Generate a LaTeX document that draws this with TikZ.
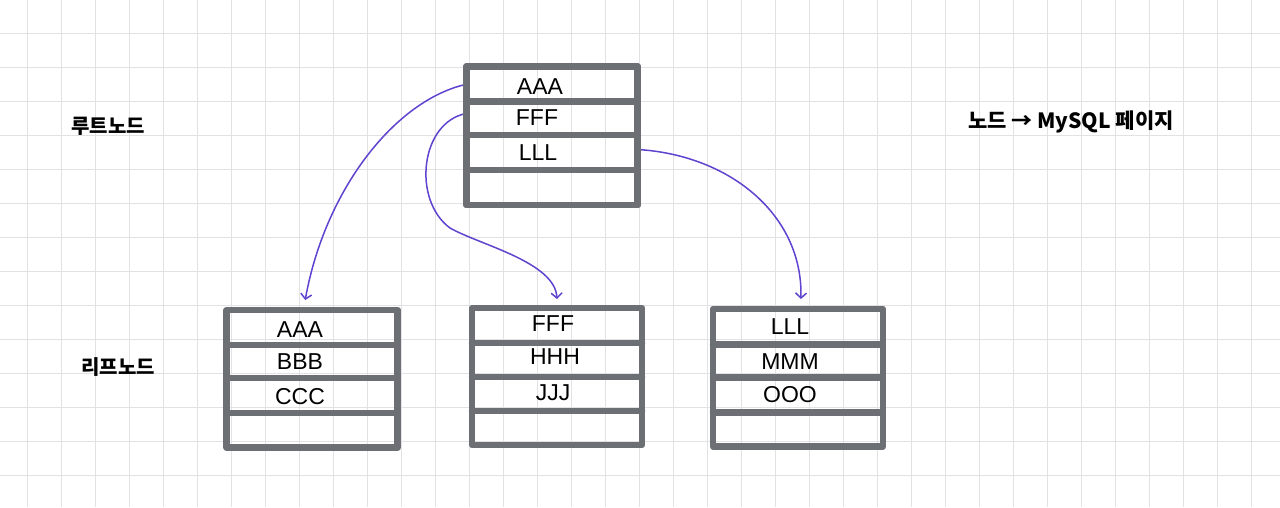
\documentclass[tikz,border=0pt]{standalone}
\usepackage{fontspec}
\setmainfont{Liberation Sans}
\newfontfamily\krfont{Noto Sans CJK KR}
\usetikzlibrary{arrows.meta}
\definecolor{gridc}{RGB}{226,226,228}
\definecolor{boxc}{RGB}{108,111,116}
\definecolor{arrc}{RGB}{96,68,208}
\tikzset{
 cell/.style={inner sep=0pt, outer sep=0pt, minimum width=#1},
 frame/.style={draw=boxc, line width=6.5pt, line cap=round, line join=round},
 lbl/.style={font=\fontsize{23}{23}\selectfont, inner sep=0pt, text=black},
 link/.style={draw=arrc, line width=1.5pt, -{Straight Barb[length=5pt,width=11pt]}},
 kr/.style={font=\krfont\bfseries\fontsize{20}{20}\selectfont, inner sep=0pt, text=black},
 gridline/.style={draw=gridc, line width=1.2pt}
}
\newcommand\pagecol[8]{%
 \node[cell=#3, minimum height={(#5-#4)*1pt}] (#1a) at (#2,{(#4+#5)/2}) {};
 \node[cell=#3, minimum height={(#6-#5)*1pt}] (#1b) at (#2,{(#5+#6)/2}) {};
 \node[cell=#3, minimum height={(#7-#6)*1pt}] (#1c) at (#2,{(#6+#7)/2}) {};
 \node[cell=#3, minimum height={(#8-#7)*1pt}] (#1d) at (#2,{(#7+#8)/2}) {};
 \draw[frame] (#1a.north west) rectangle (#1d.south east);
 \draw[frame] (#1a.south west) -- (#1a.south east);
 \draw[frame] (#1b.south west) -- (#1b.south east);
 \draw[frame] (#1c.south west) -- (#1c.south east);
}
\begin{document}
\begin{tikzpicture}[x=1pt,y=-1pt]
\useasboundingbox (0,0) rectangle (1280,507);
\fill[white] (0,0) rectangle (1280,507);
\foreach \i in {0,...,37} \draw[gridline] ({27.5+34*\i},0) -- ({27.5+34*\i},507);
\foreach \k in {0,...,13} \draw[gridline] (0,{33.5+34*\k}) -- (1280,{33.5+34*\k});

% boxes (cells)
\pagecol{r}{552.2}{171pt}{66.7}{101.7}{135}{170}{205}
\pagecol{l}{312.2}{171pt}{310}{345}{378}{413}{447.7}
\pagecol{m}{557}{170pt}{308}{343}{377}{411}{445}
\pagecol{n}{797.9}{169.7pt}{309}{344.3}{377.7}{412.3}{446.7}

% texts
\node[lbl] (rt1) at (540,86.7) {AAA};
\node[lbl] (rt2) at (537,118) {FFF};
\node[lbl] (rt3) at (538,153) {LLL};
\node[lbl] (lt1) at (300,330) {AAA};
\node[lbl] (lt2) at (300,361.7) {BBB};
\node[lbl] (lt3) at (300,396.7) {CCC};
\node[lbl] (mt1) at (553,324) {FFF};
\node[lbl] (mt2) at (555,357) {HHH};
\node[lbl] (mt3) at (553,393) {JJJ};
\node[lbl] (nt1) at (790,327) {LLL};
\node[lbl] (nt2) at (790,361.7) {MMM};
\node[lbl] (nt3) at (790,395) {OOO};

% arrows
\draw[link] (ra.west) .. controls (395,100) and (325,190) .. ([xshift=-7pt,yshift=10pt]la.north);
\draw[link] ([yshift=5pt]rb.west) .. controls (420,122) and (412,200) .. (450,228) .. controls (480,245) and (555,262) .. ([yshift=9pt]ma.north);
\draw[link] ([yshift=3pt]rc.east) .. controls (730,155) and (803,215) .. ([xshift=3pt,yshift=10pt]na.north);

% redraw root frame over arrow starts
\draw[frame] (ra.north west) rectangle (rd.south east);

% side labels
\node[kr] (rootlbl) at (108,126) {루트노드};
\node[kr] (leaflbl) at (118,367) {리프노드};
\node[kr, font=\krfont\bfseries\fontsize{21}{21}\selectfont] (note) at (1071,122) {노드 → MySQL 페이지};
\end{tikzpicture}
\end{document}
